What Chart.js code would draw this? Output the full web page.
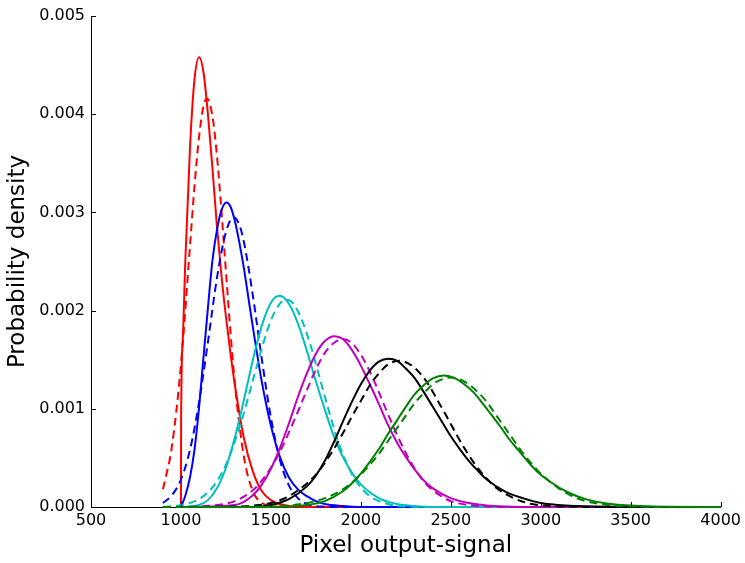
<!DOCTYPE html>
<html>
<head>
<meta charset="utf-8">
<script src="https://cdn.jsdelivr.net/npm/chart.js@4.4.1/dist/chart.umd.min.js"></script>
<style>
  html, body { margin: 0; padding: 0; background: #ffffff; }
  #wrap { width: 745px; height: 563px; }
</style>
</head>
<body>
<div id="wrap"><canvas id="chart" width="745" height="563"></canvas></div>
<script>
// Probability density of the pixel output-signal for six illumination levels.
// Solid: measured distribution; dashed: Gaussian approximation.

const xTicks = [500, 1000, 1500, 2000, 2500, 3000, 3500, 4000];
const yTicks = [0, 0.001, 0.002, 0.003, 0.004, 0.005];

// red
const redSolidX = [1000, 1001, 1010, 1025, 1050, 1075, 1101, 1125, 1150, 1175, 1200, 1225, 1250, 1275, 1300, 1350, 1400, 1450, 1500, 1550, 1600, 1700, 4000];
const redSolidY = [0, 0.0009, 0.0017, 0.00254, 0.00365, 0.00435, 0.00458, 0.00443, 0.00400, 0.00345, 0.00286, 0.00236, 0.00194, 0.00157, 0.00124, 0.00070, 0.00036, 0.00016, 0.00007, 0.00003, 0.00001, 0, 0];
const redDashX = [900, 950, 1000, 1050, 1075, 1100, 1125, 1145, 1175, 1200, 1225, 1250, 1275, 1300, 1350, 1400, 1450, 1500, 1600, 4000];
const redDashY = [0.00018, 0.00062, 0.00145, 0.00265, 0.00326, 0.00376, 0.00408, 0.00416, 0.00398, 0.00358, 0.00302, 0.00240, 0.00179, 0.00125, 0.00051, 0.00016, 0.00004, 0.00001, 0, 0];

// blue
const blueSolidX = [1000, 1025, 1050, 1075, 1100, 1125, 1150, 1175, 1200, 1225, 1253, 1275, 1300, 1325, 1350, 1375, 1400, 1450, 1500, 1550, 1600, 1650, 1700, 1750, 1800, 1900, 2000, 4000];
const blueSolidY = [0, 0.00012, 0.00030, 0.00058, 0.00100, 0.00152, 0.00203, 0.00251, 0.00282, 0.00302, 0.00310, 0.00306, 0.00291, 0.00269, 0.00243, 0.00213, 0.00183, 0.00127, 0.00083, 0.00051, 0.00030, 0.00018, 0.00011, 0.00006, 0.00003, 0.00001, 0, 0];
const blueDashX = [900, 950, 1000, 1050, 1100, 1150, 1200, 1250, 1293, 1325, 1350, 1400, 1450, 1500, 1550, 1600, 1650, 1700, 1800, 1900, 4000];
const blueDashY = [0.00004, 0.00012, 0.00028, 0.00058, 0.00106, 0.00168, 0.00233, 0.00280, 0.00295, 0.00287, 0.00270, 0.00215, 0.00150, 0.00091, 0.00048, 0.00022, 0.00009, 0.00003, 0.000003, 0, 0];

// cyan
const cyanSolidX = [1000, 1100, 1150, 1200, 1250, 1300, 1350, 1400, 1450, 1500, 1548, 1600, 1650, 1700, 1750, 1800, 1850, 1900, 1950, 2000, 2100, 2200, 2300, 2400, 4000];
const cyanSolidY = [0, 0.00002, 0.00007, 0.00019, 0.00040, 0.00071, 0.00109, 0.00150, 0.00185, 0.00208, 0.00215, 0.00207, 0.00187, 0.00159, 0.00128, 0.00099, 0.00072, 0.00051, 0.00035, 0.00023, 0.00009, 0.00003, 0.00001, 0, 0];
const cyanDashX = [900, 1000, 1100, 1150, 1200, 1250, 1300, 1350, 1400, 1450, 1500, 1550, 1587, 1625, 1675, 1725, 1775, 1825, 1875, 1925, 1975, 2050, 2150, 2250, 2400, 4000];
const cyanDashY = [0, 0.00002, 0.00008, 0.00015, 0.00026, 0.00043, 0.00067, 0.00096, 0.00129, 0.00162, 0.00190, 0.00207, 0.00211, 0.00207, 0.00189, 0.00162, 0.00129, 0.00096, 0.00066, 0.00043, 0.00026, 0.00011, 0.00003, 0.000005, 0, 0];

// magenta
const magentaSolidX = [1000, 1300, 1400, 1450, 1500, 1550, 1600, 1650, 1700, 1750, 1800, 1853, 1900, 1950, 2000, 2050, 2100, 2150, 2200, 2250, 2300, 2350, 2400, 2500, 2600, 2700, 2800, 3000, 4000];
const magentaSolidY = [0, 0.00002, 0.00012, 0.00023, 0.00039, 0.00060, 0.00085, 0.00112, 0.00136, 0.00156, 0.00169, 0.00174, 0.00171, 0.00160, 0.00144, 0.00125, 0.00105, 0.00084, 0.00066, 0.00051, 0.00038, 0.00027, 0.00019, 0.00009, 0.00004, 0.000016, 0.000006, 0, 0];
const magentaDashX = [900, 1100, 1200, 1300, 1400, 1450, 1500, 1550, 1600, 1650, 1700, 1750, 1800, 1850, 1898, 1950, 2000, 2050, 2100, 2150, 2200, 2250, 2300, 2350, 2400, 2500, 2600, 2700, 2800, 4000];
const magentaDashY = [0, 0.000005, 0.00002, 0.00006, 0.00017, 0.00027, 0.00040, 0.00056, 0.00076, 0.00097, 0.00119, 0.00140, 0.00157, 0.00167, 0.00171, 0.00167, 0.00155, 0.00138, 0.00117, 0.00095, 0.00074, 0.00055, 0.00039, 0.00026, 0.00017, 0.00006, 0.00002, 0.000005, 0, 0];

// black
const blackSolidX = [1000, 1400, 1500, 1600, 1700, 1750, 1800, 1850, 1900, 1950, 2000, 2050, 2100, 2153, 2200, 2250, 2300, 2350, 2400, 2450, 2500, 2550, 2600, 2650, 2700, 2800, 2900, 3000, 3100, 3200, 3300, 3500, 4000];
const blackSolidY = [0, 0, 0.00002, 0.00008, 0.00021, 0.00032, 0.00047, 0.00066, 0.00087, 0.00107, 0.00125, 0.00139, 0.00148, 0.00151, 0.00149, 0.00141, 0.00131, 0.00117, 0.00102, 0.00087, 0.00072, 0.00059, 0.00047, 0.00037, 0.00028, 0.00016, 0.00009, 0.00004, 0.00002, 0.00001, 0.000004, 0, 0];
const blackDashX = [900, 1300, 1400, 1500, 1600, 1700, 1750, 1800, 1850, 1900, 1950, 2000, 2050, 2100, 2150, 2214, 2275, 2325, 2375, 2425, 2475, 2525, 2575, 2625, 2675, 2750, 2850, 2950, 3050, 3150, 3300, 4000];
const blackDashY = [0, 0.000004, 0.000015, 0.00004, 0.00011, 0.00024, 0.00033, 0.00045, 0.00059, 0.00075, 0.00092, 0.00108, 0.00124, 0.00136, 0.00145, 0.00149, 0.00145, 0.00137, 0.00125, 0.00109, 0.00093, 0.00076, 0.00060, 0.00046, 0.00034, 0.00020, 0.00009, 0.00003, 0.00001, 0.000003, 0, 0];

// green
const greenSolidX = [1000, 1500, 1700, 1800, 1900, 1950, 2000, 2050, 2100, 2150, 2200, 2250, 2300, 2350, 2400, 2463, 2525, 2575, 2625, 2675, 2725, 2775, 2825, 2875, 2925, 2975, 3050, 3150, 3250, 3350, 3450, 3550, 3700, 4000];
const greenSolidY = [0, 0, 0.00002, 0.00006, 0.00016, 0.00024, 0.00034, 0.00046, 0.00059, 0.00074, 0.00088, 0.00102, 0.00115, 0.00124, 0.00131, 0.00134, 0.00131, 0.00125, 0.00117, 0.00106, 0.00094, 0.00082, 0.00069, 0.00058, 0.00047, 0.00037, 0.00026, 0.00015, 0.00008, 0.00004, 0.00002, 0.000009, 0.000002, 0];
const greenDashX = [900, 1500, 1700, 1800, 1900, 2000, 2050, 2100, 2150, 2200, 2250, 2300, 2350, 2400, 2450, 2502, 2550, 2600, 2650, 2700, 2750, 2800, 2850, 2900, 2950, 3000, 3100, 3200, 3300, 3400, 3500, 3700, 4000];
const greenDashY = [0, 0.000005, 0.00004, 0.00009, 0.00018, 0.00033, 0.00043, 0.00054, 0.00067, 0.00080, 0.00093, 0.00106, 0.00116, 0.00125, 0.00130, 0.00132, 0.00130, 0.00125, 0.00117, 0.00107, 0.00094, 0.00081, 0.00068, 0.00055, 0.00044, 0.00034, 0.00019, 0.00009, 0.00004, 0.000016, 0.000006, 0, 0];

const toPoints = (xs, ys) => xs.map((x, i) => ({ x: x, y: ys[i] }));

const curves = [
  { xs: redSolidX, ys: redSolidY, color: '#ff0000', dashed: false },
  { xs: redDashX, ys: redDashY, color: '#ff0000', dashed: true },
  { xs: blueSolidX, ys: blueSolidY, color: '#0000ff', dashed: false },
  { xs: blueDashX, ys: blueDashY, color: '#0000ff', dashed: true },
  { xs: cyanSolidX, ys: cyanSolidY, color: '#00bfbf', dashed: false },
  { xs: cyanDashX, ys: cyanDashY, color: '#00bfbf', dashed: true },
  { xs: magentaSolidX, ys: magentaSolidY, color: '#bf00bf', dashed: false },
  { xs: magentaDashX, ys: magentaDashY, color: '#bf00bf', dashed: true },
  { xs: blackSolidX, ys: blackSolidY, color: '#000000', dashed: false },
  { xs: blackDashX, ys: blackDashY, color: '#000000', dashed: true },
  { xs: greenSolidX, ys: greenSolidY, color: '#008000', dashed: false },
  { xs: greenDashX, ys: greenDashY, color: '#008000', dashed: true }
];

// later curves are painted over earlier ones
const datasets = curves.map((c, i) => ({
  data: toPoints(c.xs, c.ys),
  borderColor: c.color,
  backgroundColor: c.color,
  borderWidth: 2,
  borderDash: c.dashed ? [8, 5] : [],
  pointRadius: 0,
  fill: false,
  cubicInterpolationMode: 'monotone',
  clip: false,
  order: curves.length - i
}));

// small tick marks pointing into the plot
const inwardTicks = {
  id: 'inwardTicks',
  afterDatasetsDraw(chart) {
    const { ctx, chartArea } = chart;
    const xs = chart.scales.x, ys = chart.scales.y;
    ctx.save();
    ctx.strokeStyle = '#000';
    ctx.lineWidth = 1;
    ctx.beginPath();
    xs.ticks.forEach(t => {
      const px = Math.round(xs.getPixelForValue(t.value)) + 0.5;
      ctx.moveTo(px, chartArea.bottom);
      ctx.lineTo(px, chartArea.bottom - 5);
    });
    ys.ticks.forEach(t => {
      const py = Math.round(ys.getPixelForValue(t.value)) + 0.5;
      ctx.moveTo(chartArea.left, py);
      ctx.lineTo(chartArea.left + 5, py);
    });
    ctx.stroke();
    ctx.restore();
  }
};

Chart.defaults.font.family = "'DejaVu Sans', sans-serif";
Chart.defaults.font.size = 16;
Chart.defaults.color = '#000';

new Chart(document.getElementById('chart'), {
  type: 'line',
  data: { datasets: datasets },
  plugins: [inwardTicks],
  options: {
    responsive: false,
    animation: false,
    devicePixelRatio: 1,
    layout: { padding: { top: 16, right: 23, left: 0, bottom: 0 } },
    plugins: { legend: { display: false }, tooltip: { enabled: false } },
    scales: {
      x: {
        type: 'linear',
        min: xTicks[0],
        max: xTicks[xTicks.length - 1],
        afterBuildTicks: s => { s.ticks = xTicks.map(v => ({ value: v })); },
        afterFit: s => { s.height = 56; },
        grid: { display: false, drawTicks: false },
        border: { display: true, color: '#000', width: 1 },
        ticks: { padding: 4, color: '#000', font: { size: 16 }, maxRotation: 0, callback: v => String(v) },
        title: { display: true, text: 'Pixel output-signal', color: '#000', font: { size: 23 }, padding: { top: 4, bottom: 3 } }
      },
      y: {
        type: 'linear',
        min: yTicks[0],
        max: yTicks[yTicks.length - 1],
        afterBuildTicks: s => { s.ticks = yTicks.map(v => ({ value: v })); },
        afterFit: s => { s.width = 91; },
        grid: { display: false, drawTicks: false },
        border: { display: true, color: '#000', width: 1 },
        ticks: { padding: 6, color: '#000', font: { size: 16 }, callback: v => Number(v).toFixed(3) },
        title: { display: true, text: 'Probability density', color: '#000', font: { size: 23 }, padding: { top: 4, bottom: 4 } }
      }
    }
  }
});
</script>
</body>
</html>
